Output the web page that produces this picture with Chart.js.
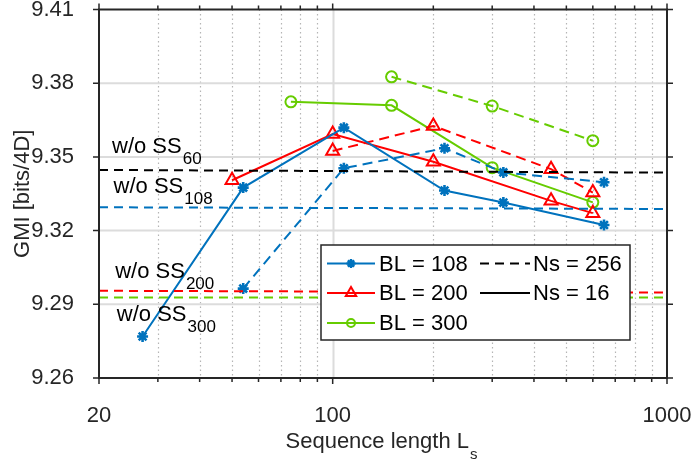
<!DOCTYPE html>
<html>
<head>
<meta charset="utf-8">
<script src="https://cdn.jsdelivr.net/npm/chart.js@4.4.1/dist/chart.umd.min.js"></script>
<style>
  html, body { margin: 0; padding: 0; background: #fff; }
  #wrap { width: 692px; height: 462px; }
</style>
</head>
<body>
<div id="wrap"><canvas id="c" width="692" height="462"></canvas></div>
<script>
// sequence lengths and GMI values
var xBL108Ns16 = [27, 54, 108, 216, 324, 648];
var gmiBL108Ns16 = [9.2769, 9.3375, 9.3619, 9.3363, 9.3314, 9.3223];
var xBL108Ns256 = [54, 108, 216, 324, 648];
var gmiBL108Ns256 = [9.2964, 9.3454, 9.3535, 9.3437, 9.3397];

var xBL200Ns16 = [50, 100, 200, 450, 600];
var gmiBL200Ns16 = [9.3405, 9.3593, 9.3480, 9.3321, 9.3271];
var xBL200Ns256 = [100, 200, 450, 600];
var gmiBL200Ns256 = [9.3524, 9.3626, 9.3450, 9.3355];

var xBL300Ns16 = [75, 150, 300, 600];
var gmiBL300Ns16 = [9.3724, 9.3710, 9.3456, 9.3315];
var xBL300Ns256 = [150, 300, 600];
var gmiBL300Ns256 = [9.3826, 9.3707, 9.3566];

// "w/o SS" reference levels (value at x=20 and at x=1000)
var refNames = ['60', '108', '200', '300'];
var refStart = [9.3447, 9.3295, 9.2955, 9.2928];
var refEnd = [9.3436, 9.3288, 9.2948, 9.2928];
var refLabelY = [9.3515, 9.3352, 9.3006, 9.2830];

var xRange = [20, 1000];
var xTicks = [20, 30, 40, 50, 60, 70, 80, 90, 100, 200, 300, 400, 500, 600, 700, 800, 900, 1000];
var xTickLabels = [20, 100, 1000];
var yTicks = [9.26, 9.29, 9.32, 9.35, 9.38, 9.41];

var BLUE = '#0072BD', RED = '#FF0000', GREEN = '#66CC00', INK = '#262626';
var FONT = '"Liberation Sans", Arial, sans-serif';

function pts(xs, ys) {
    return xs.map(function (x, i) { return { x: x, y: ys[i] }; });
}

var series = [
    { label: 'BL = 108', color: BLUE, style: 'star', r: 5.5, xs: xBL108Ns16, ys: gmiBL108Ns16, dash: [] },
    { label: 'BL = 108 256', color: BLUE, style: 'star', r: 5.5, xs: xBL108Ns256, ys: gmiBL108Ns256, dash: [10, 6] },
    { label: 'BL = 200', color: RED, style: 'triangle', r: 7.5, xs: xBL200Ns16, ys: gmiBL200Ns16, dash: [] },
    { label: 'BL = 200 256', color: RED, style: 'triangle', r: 7.5, xs: xBL200Ns256, ys: gmiBL200Ns256, dash: [10, 6] },
    { label: 'BL = 300', color: GREEN, style: 'circle', r: 5.5, xs: xBL300Ns16, ys: gmiBL300Ns16, dash: [] },
    { label: 'BL = 300 256', color: GREEN, style: 'circle', r: 5.5, xs: xBL300Ns256, ys: gmiBL300Ns256, dash: [10, 6] }
];
var refColors = ['#000000', BLUE, RED, GREEN];

var datasets = [];
refNames.forEach(function (n, i) {
    datasets.push({
        label: 'w/o SS' + n,
        data: [{ x: xRange[0], y: refStart[i] }, { x: xRange[1], y: refEnd[i] }],
        borderColor: refColors[i],
        borderWidth: 2,
        borderDash: [9, 6],
        pointRadius: 0,
        showLine: true
    });
});
series.forEach(function (s) {
    datasets.push({
        label: s.label,
        data: pts(s.xs, s.ys),
        borderColor: s.color,
        backgroundColor: 'rgba(0,0,0,0)',
        borderWidth: 2,
        borderDash: s.dash,
        pointStyle: s.style,
        pointRadius: s.r,
        pointBorderWidth: s.style === 'star' ? 2.6 : 2,
        pointBorderColor: s.color,
        pointBackgroundColor: 'rgba(0,0,0,0)',
        showLine: true
    });
});

var framePlugin = {
    id: 'frame',
    beforeDatasetsDraw: function (chart) {
        var ctx = chart.ctx, a = chart.chartArea;
        var xs = chart.scales.x, ys = chart.scales.y;
        ctx.save();
        // vertical grid: solid at decades, dotted otherwise
        xTicks.forEach(function (v) {
            if (v === xRange[0] || v === xRange[1]) return;
            var px = Math.round(xs.getPixelForValue(v)) + 0.5;
            var major = xTickLabels.indexOf(v) >= 0;
            ctx.beginPath();
            ctx.strokeStyle = major ? '#dcdcdc' : '#b5b5b5';
            ctx.lineWidth = major ? 2 : 1.2;
            ctx.setLineDash(major ? [] : [1.5, 3]);
            ctx.moveTo(px, a.top);
            ctx.lineTo(px, a.bottom);
            ctx.stroke();
        });
        ctx.setLineDash([]);
        yTicks.forEach(function (v, i) {
            if (i === 0 || i === yTicks.length - 1) return;
            var py = ys.getPixelForValue(v);
            ctx.beginPath();
            ctx.strokeStyle = '#dcdcdc';
            ctx.lineWidth = 2;
            ctx.moveTo(a.left, py);
            ctx.lineTo(a.right, py);
            ctx.stroke();
        });
        ctx.restore();
    },
    afterDatasetsDraw: function (chart) {
        var ctx = chart.ctx, a = chart.chartArea;
        var xs = chart.scales.x, ys = chart.scales.y;
        ctx.save();
        ctx.strokeStyle = INK;
        ctx.fillStyle = INK;
        ctx.lineWidth = 2;
        ctx.strokeRect(a.left, a.top, a.right - a.left, a.bottom - a.top);
        ctx.lineWidth = 1.5;
        // outward ticks on all four sides
        ctx.beginPath();
        xTicks.forEach(function (v) {
            var px = xs.getPixelForValue(v);
            var len = xTickLabels.indexOf(v) >= 0 ? 6 : 4;
            ctx.moveTo(px, a.bottom); ctx.lineTo(px, a.bottom + len);
            ctx.moveTo(px, a.top); ctx.lineTo(px, a.top - len);
        });
        yTicks.forEach(function (v) {
            var py = ys.getPixelForValue(v);
            ctx.moveTo(a.left, py); ctx.lineTo(a.left - 6, py);
            ctx.moveTo(a.right, py); ctx.lineTo(a.right + 6, py);
        });
        ctx.stroke();

        // "w/o SS" labels with subscripts
        ctx.fillStyle = '#000';
        refNames.forEach(function (n, i) {
            var x0 = a.left + 13 + i * 1.6;
            var y0 = ys.getPixelForValue(refLabelY[i]);
            ctx.font = '22px ' + FONT;
            ctx.textAlign = 'left';
            ctx.textBaseline = 'alphabetic';
            ctx.fillText('w/o SS', x0, y0);
            var w = ctx.measureText('w/o SS').width;
            ctx.font = '17px ' + FONT;
            ctx.fillText(n, x0 + w + 1, y0 + 11);
        });

        // legend
        var lx = 321, ly = 245, lw = 309, lh = 95;
        ctx.fillStyle = '#fff';
        ctx.fillRect(lx, ly, lw, lh);
        ctx.strokeStyle = INK;
        ctx.lineWidth = 1.5;
        ctx.strokeRect(lx, ly, lw, lh);
        var rows = [263.5, 293, 323];
        var legendSeries = [series[0], series[2], series[4]];
        ctx.font = '22px ' + FONT;
        ctx.textBaseline = 'middle';
        legendSeries.forEach(function (s, i) {
            var y = rows[i];
            ctx.beginPath();
            ctx.strokeStyle = s.color;
            ctx.lineWidth = 2;
            ctx.moveTo(327, y); ctx.lineTo(375, y);
            ctx.stroke();
            ctx.fillStyle = 'rgba(0,0,0,0)';
            ctx.lineWidth = s.style === 'star' ? 2.4 : 2;
            Chart.helpers.drawPoint(ctx, { pointStyle: s.style, radius: s.style === 'star' ? 4.5 : s.r - 1.5, borderWidth: ctx.lineWidth, rotation: 0 }, 351, y);
            ctx.fillStyle = '#000';
            ctx.fillText(s.label, 379, y + 1);
        });
        ctx.strokeStyle = '#000';
        ctx.lineWidth = 2;
        ctx.beginPath();
        ctx.setLineDash([9, 6]);
        ctx.moveTo(480, rows[0]); ctx.lineTo(530, rows[0]);
        ctx.stroke();
        ctx.setLineDash([]);
        ctx.beginPath();
        ctx.moveTo(480, rows[1]); ctx.lineTo(530, rows[1]);
        ctx.stroke();
        ctx.fillStyle = '#000';
        ctx.fillText('Ns = 256', 533, rows[0] + 1);
        ctx.fillText('Ns = 16', 533, rows[1] + 1);

        // axis titles
        ctx.fillStyle = INK;
        ctx.font = '22px ' + FONT;
        ctx.textBaseline = 'alphabetic';
        var main = 'Sequence length L';
        var mw = ctx.measureText(main).width;
        ctx.font = '15px ' + FONT;
        var sw = ctx.measureText('s').width;
        var tx = (a.left + a.right) / 2 - (mw + sw) / 2 - 2;
        ctx.font = '22px ' + FONT;
        ctx.textAlign = 'left';
        ctx.fillText(main, tx, 448);
        ctx.font = '15px ' + FONT;
        ctx.fillText('s', tx + mw + 1, 459);

        ctx.translate(29, (a.top + a.bottom) / 2);
        ctx.rotate(-Math.PI / 2);
        ctx.font = '22px ' + FONT;
        ctx.textAlign = 'center';
        ctx.fillText('GMI [bits/4D]', 0, 0);
        ctx.restore();
    }
};

new Chart(document.getElementById('c').getContext('2d'), {
    type: 'scatter',
    data: { datasets: datasets },
    options: {
        responsive: false,
        animation: false,
        devicePixelRatio: 1,
        layout: { padding: { top: 9, right: 25, left: 0, bottom: 0 } },
        plugins: { legend: { display: false }, tooltip: { enabled: false } },
        scales: {
            x: {
                type: 'logarithmic',
                min: xRange[0],
                max: xRange[1],
                grid: { display: false },
                border: { display: false },
                afterBuildTicks: function (scale) {
                    scale.ticks = xTicks.map(function (v) { return { value: v }; });
                },
                afterFit: function (scale) {
                    scale.height = 84;
                    scale.paddingLeft = 0; scale.paddingRight = 0;
                    scale.paddingTop = 0; scale.paddingBottom = 0;
                },
                ticks: {
                    autoSkip: false,
                    maxRotation: 0,
                    padding: 17,
                    color: INK,
                    font: { family: FONT, size: 22 },
                    callback: function (v) { return xTickLabels.indexOf(v) >= 0 ? String(v) : ''; }
                }
            },
            y: {
                min: yTicks[0],
                max: yTicks[yTicks.length - 1],
                grid: { display: false },
                border: { display: false },
                afterBuildTicks: function (scale) {
                    scale.ticks = yTicks.map(function (v) { return { value: v }; });
                },
                afterFit: function (scale) {
                    scale.width = 99;
                    scale.paddingLeft = 0; scale.paddingRight = 0;
                    scale.paddingTop = 0; scale.paddingBottom = 0;
                },
                ticks: {
                    padding: 17,
                    color: INK,
                    font: { family: FONT, size: 22 },
                    callback: function (v) { return Number(v).toFixed(2); }
                }
            }
        }
    },
    plugins: [framePlugin]
});
</script>
</body>
</html>
